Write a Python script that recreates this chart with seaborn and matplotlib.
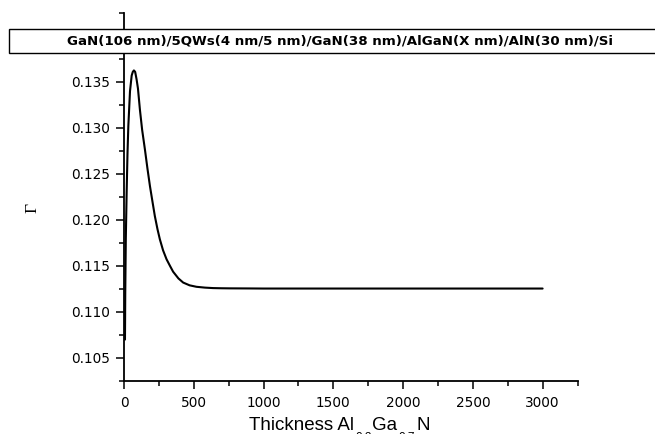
import matplotlib
matplotlib.use("Agg")
import matplotlib.pyplot as plt
from matplotlib.patches import Rectangle
from matplotlib.ticker import MultipleLocator, FuncFormatter
import seaborn as sns
import pandas as pd

# Data
thickness = [7, 9, 13, 19, 25, 31, 43, 55, 63, 71, 80, 90, 100, 114, 130, 150, 168, 186, 204, 221, 240,
             257, 280, 305, 330, 352, 390, 424, 470, 519, 580, 638, 700, 757, 900, 1000, 2000, 3000]
gamma = [0.1070, 0.1121, 0.1180, 0.1230, 0.1272, 0.1302, 0.1340, 0.1357, 0.1361, 0.13626, 0.1361, 0.1353,
         0.1343, 0.1320, 0.1298, 0.12766, 0.1256, 0.12368, 0.1220, 0.12043, 0.1190,
         0.1179, 0.1167, 0.11573, 0.11500, 0.11438, 0.11365, 0.11320, 0.11290, 0.11274, 0.11265, 0.11260,
         0.11258, 0.11257, 0.11256, 0.11255, 0.11255, 0.11255]
title_text = "GaN(106 nm)/5QWs(4 nm/5 nm)/GaN(38 nm)/AlGaN(X nm)/AlN(30 nm)/Si"
xlabel_parts = [("Thickness Al", False), ("0.3", True), ("Ga", False), ("0.7", True), ("N", False)]
ylabel_text = "Γ"

sns.set_theme(style="ticks")
plt.rcParams["font.family"] = ["DejaVu Sans"]

df = pd.DataFrame({"t": thickness, "g": gamma})

W, H = 655, 434
fig = plt.figure(figsize=(W / 100, H / 100), dpi=100)
ax = fig.add_axes([124 / W, (H - 381) / H, (577.5 - 124) / W, (381 - 13) / H])

sns.lineplot(data=df, x="t", y="g", ax=ax, color="black", lw=1.5, estimator=None, sort=False)

ax.set_xlim(0, 3250)
ax.set_ylim(0.1025, 0.1425)
ax.xaxis.set_major_locator(MultipleLocator(500))
ax.xaxis.set_minor_locator(MultipleLocator(250))
ax.yaxis.set_major_locator(MultipleLocator(0.005))
ax.yaxis.set_minor_locator(MultipleLocator(0.0025))
# the 0.140 label sits under the title box in the reference, so it is not shown
ax.yaxis.set_major_formatter(FuncFormatter(lambda v, p: "" if v > 0.1385 else f"{v:.3f}"))
ax.tick_params(which="major", direction="out", length=6, width=1.1, labelsize=9.8, color="black",
               labelcolor="black")
ax.tick_params(which="minor", direction="out", length=3.5, width=1.1, color="black")
ax.tick_params(axis="x", which="major", pad=5)
ax.tick_params(axis="y", which="major", pad=4)
for s in ["top", "right"]:
    ax.spines[s].set_visible(False)
for s in ["left", "bottom"]:
    ax.spines[s].set_linewidth(1.3)
    ax.spines[s].set_color("black")
ax.set_xlabel("")
ax.set_ylabel("")

# x label with low subscripts, built piece by piece
renderer = fig.canvas.get_renderer()
xpos = 249.0
for txt, sub in xlabel_parts:
    if sub:
        tt = fig.text((xpos + 1) / W, (H - 432.3) / H, txt, fontsize=8.5, ha="left", va="top",
                      family=["Liberation Sans"], color="black")
    else:
        tt = fig.text(xpos / W, (H - 430.5) / H, txt, fontsize=13.5, ha="left", va="baseline",
                      family=["Liberation Sans"], color="black")
    bb = tt.get_window_extent(renderer=renderer)
    xpos += bb.width + (2 if sub else 0)

fig.text(32 / W, (H - 208) / H, ylabel_text, fontsize=12.5, rotation=90,
         ha="center", va="center", family=["Liberation Serif", "DejaVu Serif"], color="black")

rect = Rectangle((9 / W, (H - 52.7) / H), 1.0, 23.4 / H, transform=fig.transFigure,
                 facecolor="white", edgecolor="black", lw=1.0, zorder=5, clip_on=False)
fig.add_artist(rect)
fig.text(339.5 / W, (H - 41) / H, title_text, fontsize=9.65, fontweight="bold",
         ha="center", va="center", color="black", zorder=6)

fig.savefig("out.png", dpi=100)
